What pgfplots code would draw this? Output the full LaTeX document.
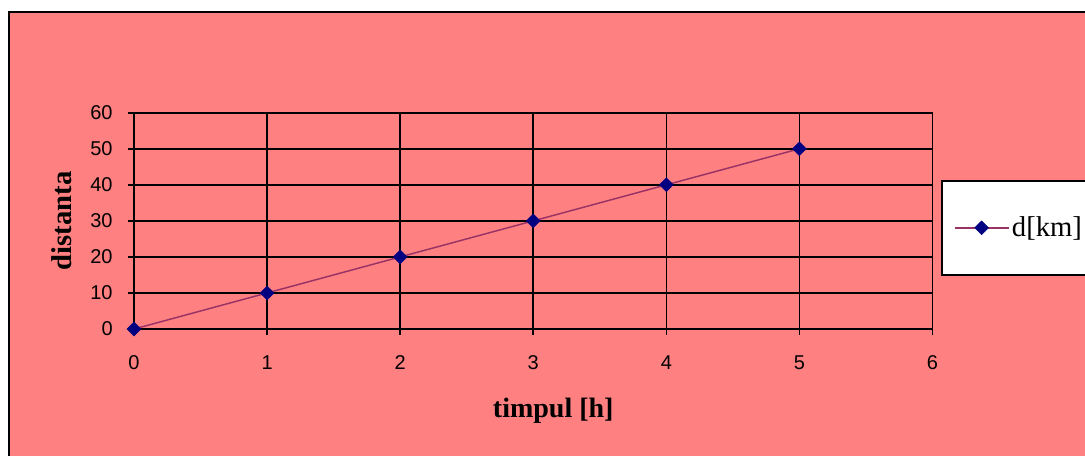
\documentclass[border=0pt]{standalone}
\usepackage{pgfplots}
\pgfplotsset{compat=1.18}
\usepackage{fontspec}
\setmainfont{Liberation Serif}
\setsansfont{Liberation Sans}
\definecolor{bgsalmon}{HTML}{FF8080}
\definecolor{linepurple}{HTML}{993366}
\definecolor{marknavy}{HTML}{000080}
\begin{document}
\begin{tikzpicture}
\fill[white] (0pt,0pt) rectangle (813.75pt,341.25pt);
\begin{scope}
\clip (0pt,0pt) rectangle (813.75pt,341.25pt);
\filldraw[fill=bgsalmon, draw=black, line width=1.3pt] (6.75pt,332.5pt) rectangle (840pt,-20pt);
\begin{axis}[
  at={(100.5pt,94.5pt)}, anchor=south west,
  scale only axis, width=598.9pt, height=162.2pt,
  xmin=0, xmax=6, ymin=0, ymax=60,
  xtick={0,...,6}, ytick={0,10,...,60},
  grid=major,
  grid style={black, line width=1.2pt},
  axis line style={black, line width=1.2pt},
  tick style={black, line width=1.2pt},
  tick align=outside, major tick length=4.5pt,
  xtick pos=left, ytick pos=left,
  /pgf/number format/assume math mode=true,
  ticklabel style={font=\sffamily\fontsize{15}{18}\selectfont},
  xticklabel style={yshift=-12pt},
  yticklabel style={xshift=-8pt},
  xlabel={timpul [h]},
  ylabel={distanta},
  xlabel style={font=\bfseries\fontsize{21}{24}\selectfont, at={(axis description cs:0.525,-0.38)}, anchor=center},
  ylabel style={font=\bfseries\fontsize{21.5}{24}\selectfont, at={(axis description cs:-0.09,0.5)}, anchor=center},
  legend style={at={(1.0106,0.6889)}, anchor=north west, draw=black, fill=white, line width=1.2pt,
    inner xsep=9pt, inner ysep=25pt, font=\fontsize{21.5}{24}\selectfont,
    /tikz/every even column/.append style={column sep=6pt}},
  legend image code/.code={\draw[mark repeat=2,mark phase=2,#1] plot coordinates {(0pt,0pt) (20.25pt,0pt) (40.5pt,0pt)};},
  clip=false,
]
\addplot[color=linepurple, line width=1.1pt, mark=square*, mark size=3.7pt,
  mark options={fill=marknavy, draw=marknavy, rotate=45, line width=0.3pt}]
  coordinates {(0,0) (1,10) (2,20) (3,30) (4,40) (5,50)};
\addlegendentry{d[km]}
\end{axis}
\end{scope}
\pgfresetboundingbox
\useasboundingbox (0pt,0pt) rectangle (813.75pt,341.25pt);
\end{tikzpicture}
\end{document}
